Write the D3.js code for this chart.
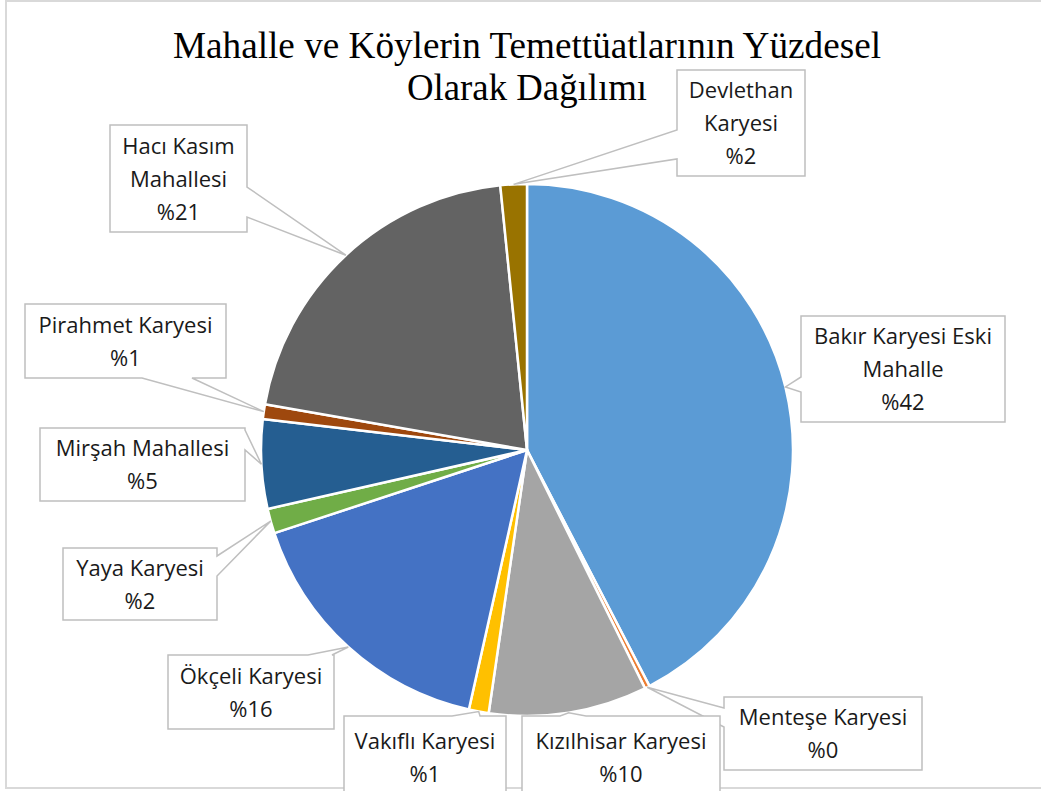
<!DOCTYPE html>
<html>
<head>
<meta charset="utf-8">
<script src="https://cdn.jsdelivr.net/npm/d3@7"></script>
<style>
  body { margin: 0; background: #fff; }
  svg { display: block; }
</style>
</head>
<body>
<svg id="chart" width="1041" height="791"></svg>
<script>
// Data (clockwise from 12 o'clock)
const names = [
    ['Bakır Karyesi Eski', 'Mahalle'],
    ['Menteşe Karyesi'],
    ['Kızılhisar Karyesi'],
    ['Vakıflı Karyesi'],
    ['Ökçeli Karyesi'],
    ['Yaya Karyesi'],
    ['Mirşah Mahallesi'],
    ['Pirahmet Karyesi'],
    ['Hacı Kasım', 'Mahallesi'],
    ['Devlethan', 'Karyesi']
];
const values = [42.3, 0.3, 9.6, 1.2, 16.4, 1.5, 5.4, 0.9, 20.6, 1.6];
const colors = ['#5B9BD5', '#ED7D31', '#A5A5A5', '#FFC000', '#4472C4',
                '#70AD47', '#255E91', '#9E480E', '#636363', '#997300'];
const titleLines = ['Mahalle ve Köylerin Temettüatlarının Yüzdesel', 'Olarak Dağılımı'];

// Callout boxes: box + where the wedge leaves the box
const callouts = [
    { x: 801, y: 316, w: 204, h: 106, side: 'left',   a: 377, b: 392 },
    { x: 724, y: 697, w: 198, h: 73,  side: 'left',   a: 708, b: 727 },
    { x: 522, y: 716, w: 198, h: 82,  side: 'top',    a: 560, b: 586 },
    { x: 344, y: 716, w: 162, h: 82,  side: 'top',    a: 452, b: 480 },
    { x: 168, y: 655, w: 166, h: 74,  side: 'top',    a: 308, b: 332 },
    { x: 63,  y: 548, w: 154, h: 72,  side: 'right',  a: 556, b: 576 },
    { x: 40,  y: 428, w: 205, h: 73,  side: 'right',  a: 430, b: 450 },
    { x: 25,  y: 304, w: 201, h: 74,  side: 'bottom', a: 142, b: 192 },
    { x: 110, y: 125, w: 137, h: 107, side: 'right',  a: 187, b: 217 },
    { x: 677, y: 70,  w: 128, h: 106, side: 'left',   a: 130, b: 159 }
];

const svg = d3.select('#chart');
const cx = 527, cy = 450, radius = 266;

// Chart area border
svg.append('rect')
    .attr('x', 6).attr('y', 1)
    .attr('width', 1100).attr('height', 787)
    .attr('fill', 'none')
    .attr('stroke', '#d9d9d9')
    .attr('stroke-width', 2);

// Title
const title = svg.append('g');
titleLines.forEach((t, i) => {
    title.append('text')
        .attr('x', 527)
        .attr('y', 58 + i * 42)
        .attr('text-anchor', 'middle')
        .style('font-family', '"Liberation Serif", "Times New Roman", serif')
        .style('font-size', '38px')
        .attr('fill', '#000')
        .attr('textLength', i === 0 ? 708 : 240)
        .attr('lengthAdjust', 'spacingAndGlyphs')
        .text(t);
});

// Pie
const pie = d3.pie().sort(null).value(d => d)(values);
const arc = d3.arc().innerRadius(0).outerRadius(radius);
const total = d3.sum(values);

const g = svg.append('g').attr('transform', `translate(${cx},${cy})`);
g.selectAll('path')
    .data(pie)
    .enter()
    .append('path')
    .attr('d', arc)
    .attr('fill', (d, i) => colors[i])
    .attr('stroke', '#fff')
    .attr('stroke-width', 2.5)
    .attr('stroke-linejoin', 'round');

// Wedge callout path: rectangle with a pointer to the tip
function calloutPath(c, tx, ty) {
    const x0 = c.x, y0 = c.y, x1 = c.x + c.w, y1 = c.y + c.h;
    const p = d3.path();
    p.moveTo(x0, y0);
    if (c.side === 'top') { p.lineTo(c.a, y0); p.lineTo(tx, ty); p.lineTo(c.b, y0); }
    p.lineTo(x1, y0);
    if (c.side === 'right') { p.lineTo(x1, c.a); p.lineTo(tx, ty); p.lineTo(x1, c.b); }
    p.lineTo(x1, y1);
    if (c.side === 'bottom') { p.lineTo(c.b, y1); p.lineTo(tx, ty); p.lineTo(c.a, y1); }
    p.lineTo(x0, y1);
    if (c.side === 'left') { p.lineTo(x0, c.b); p.lineTo(tx, ty); p.lineTo(x0, c.a); }
    p.closePath();
    return p.toString();
}

const labels = svg.append('g');
pie.forEach((d, i) => {
    const c = callouts[i];
    const mid = (d.startAngle + d.endAngle) / 2;
    const tx = cx + radius * Math.sin(mid);
    const ty = cy - radius * Math.cos(mid);

    labels.append('path')
        .attr('d', calloutPath(c, tx, ty))
        .attr('fill', '#fff')
        .attr('stroke', '#bfbfbf')
        .attr('stroke-width', 1.5);

    const lines = names[i].concat(['%' + Math.round(values[i] / total * 100)]);
    const lineH = 33;
    const startY = c.y + c.h / 2 - (lines.length - 1) * lineH / 2 + 8;
    lines.forEach((t, j) => {
        labels.append('text')
            .attr('x', c.x + c.w / 2)
            .attr('y', startY + j * lineH)
            .attr('text-anchor', 'middle')
            .style('font-family', '"Open Sans", "Noto Sans", sans-serif')
            .style('font-size', '22px')
            .attr('fill', '#1a1a1a')
            .text(t);
    });
});
</script>
</body>
</html>
